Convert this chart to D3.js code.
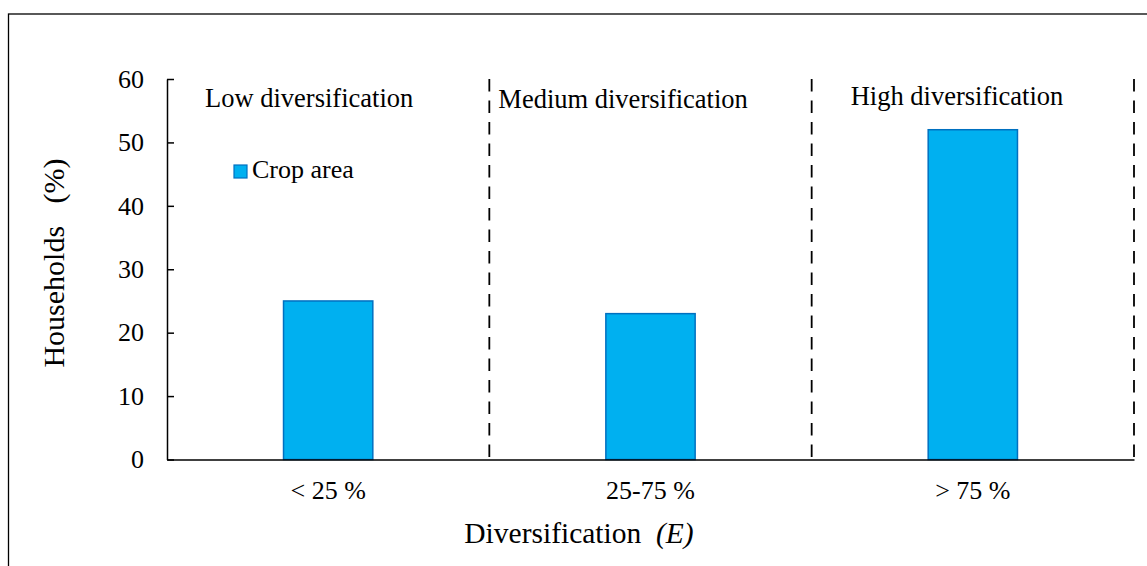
<!DOCTYPE html>
<html>
<head>
<meta charset="utf-8">
<script src="https://cdn.jsdelivr.net/npm/d3@7"></script>
<style>
  body { margin: 0; background: #fff; }
  svg { display: block; font-family: "Liberation Serif", "Times New Roman", serif; }
</style>
</head>
<body>
<script>
// data
var categories = ["< 25 %", "25-75 %", "> 75 %"];
var cropArea = [25, 23, 52];
var regionLabels = ["Low diversification", "Medium diversification", "High diversification"];
var yTicks = [0, 10, 20, 30, 40, 50, 60];

var width = 1147, height = 566;

var svg = d3.select("body")
    .append("svg")
    .attr("width", width)
    .attr("height", height);

// outer frame
svg.append("rect")
    .attr("x", 8.5)
    .attr("y", 14)
    .attr("width", 1160)
    .attr("height", 580)
    .style("fill", "none")
    .style("stroke", "#000")
    .style("stroke-width", 1.3);

var x = d3.scaleBand()
    .domain(categories)
    .range([167, 1134])
    .padding(0);

var y = d3.scaleLinear()
    .domain([0, 60])
    .range([459.5, 79]);

var barW = x.bandwidth() * 0.277;

// dashed separators at the right edge of each region
svg.selectAll("line.sep")
    .data(categories)
    .enter().append("line")
    .attr("class", "sep")
    .attr("x1", function(d) { return x(d) + x.bandwidth(); })
    .attr("x2", function(d) { return x(d) + x.bandwidth(); })
    .attr("y1", y(60))
    .attr("y2", y(0))
    .style("stroke", "#000")
    .style("stroke-width", 1.8)
    .style("stroke-dasharray", "12.5,9");

// bars
svg.selectAll("rect.bar")
    .data(cropArea)
    .enter().append("rect")
    .attr("class", "bar")
    .attr("x", function(d, i) { return x(categories[i]) + (x.bandwidth() - barW) / 2; })
    .attr("y", function(d) { return y(d); })
    .attr("width", barW)
    .attr("height", function(d) { return y(0) - y(d); })
    .style("fill", "#00B0F0")
    .style("stroke", "#0070C0")
    .style("stroke-width", 1.5);

// y axis
var yAxis = svg.append("g")
    .attr("transform", "translate(167,0)")
    .call(d3.axisLeft(y).tickValues(yTicks).tickSizeInner(-7).tickSizeOuter(0).tickPadding(23));
yAxis.select(".domain").style("stroke", "#000").style("stroke-width", 1.5);
yAxis.selectAll(".tick line").style("stroke", "#000").style("stroke-width", 1.5);
yAxis.selectAll(".tick text")
    .style("font-family", "Liberation Serif")
    .style("font-size", "26px")
    .style("fill", "#000");

// x axis line (no ticks)
var xAxis = svg.append("g")
    .attr("transform", "translate(0," + y(0) + ")")
    .call(d3.axisBottom(x).tickSize(0).tickPadding(21));
xAxis.select(".domain").style("stroke", "#000").style("stroke-width", 1.5);
xAxis.selectAll(".tick text")
    .style("font-family", "Liberation Serif")
    .style("font-size", "26px")
    .style("fill", "#000");

// region labels
var labelOffset = [38, 9, 39];
var labelBase = [107, 108, 105];
svg.selectAll("text.region")
    .data(regionLabels)
    .enter().append("text")
    .attr("class", "region")
    .attr("x", function(d, i) { return x(categories[i]) + labelOffset[i]; })
    .attr("y", function(d, i) { return labelBase[i]; })
    .style("font-size", "26.5px")
    .text(function(d) { return d; });

// legend
svg.append("rect")
    .attr("x", 234)
    .attr("y", 165)
    .attr("width", 13)
    .attr("height", 13)
    .style("fill", "#00B0F0")
    .style("stroke", "#0070C0")
    .style("stroke-width", 1.2);
svg.append("text")
    .attr("x", 252)
    .attr("y", 178)
    .style("font-size", "26px")
    .text("Crop area");

// axis titles
var xt = svg.append("text")
    .attr("x", 579)
    .attr("y", 543)
    .attr("text-anchor", "middle")
    .style("font-size", "29.5px")
    .style("white-space", "pre");
xt.append("tspan").text("Diversification  ");
xt.append("tspan").style("font-style", "italic").text("(E)");

svg.append("text")
    .attr("transform", "translate(64,263) rotate(-90)")
    .attr("text-anchor", "middle")
    .style("font-size", "30px")
    .style("white-space", "pre")
    .text("Households   (%)");
</script>
</body>
</html>
